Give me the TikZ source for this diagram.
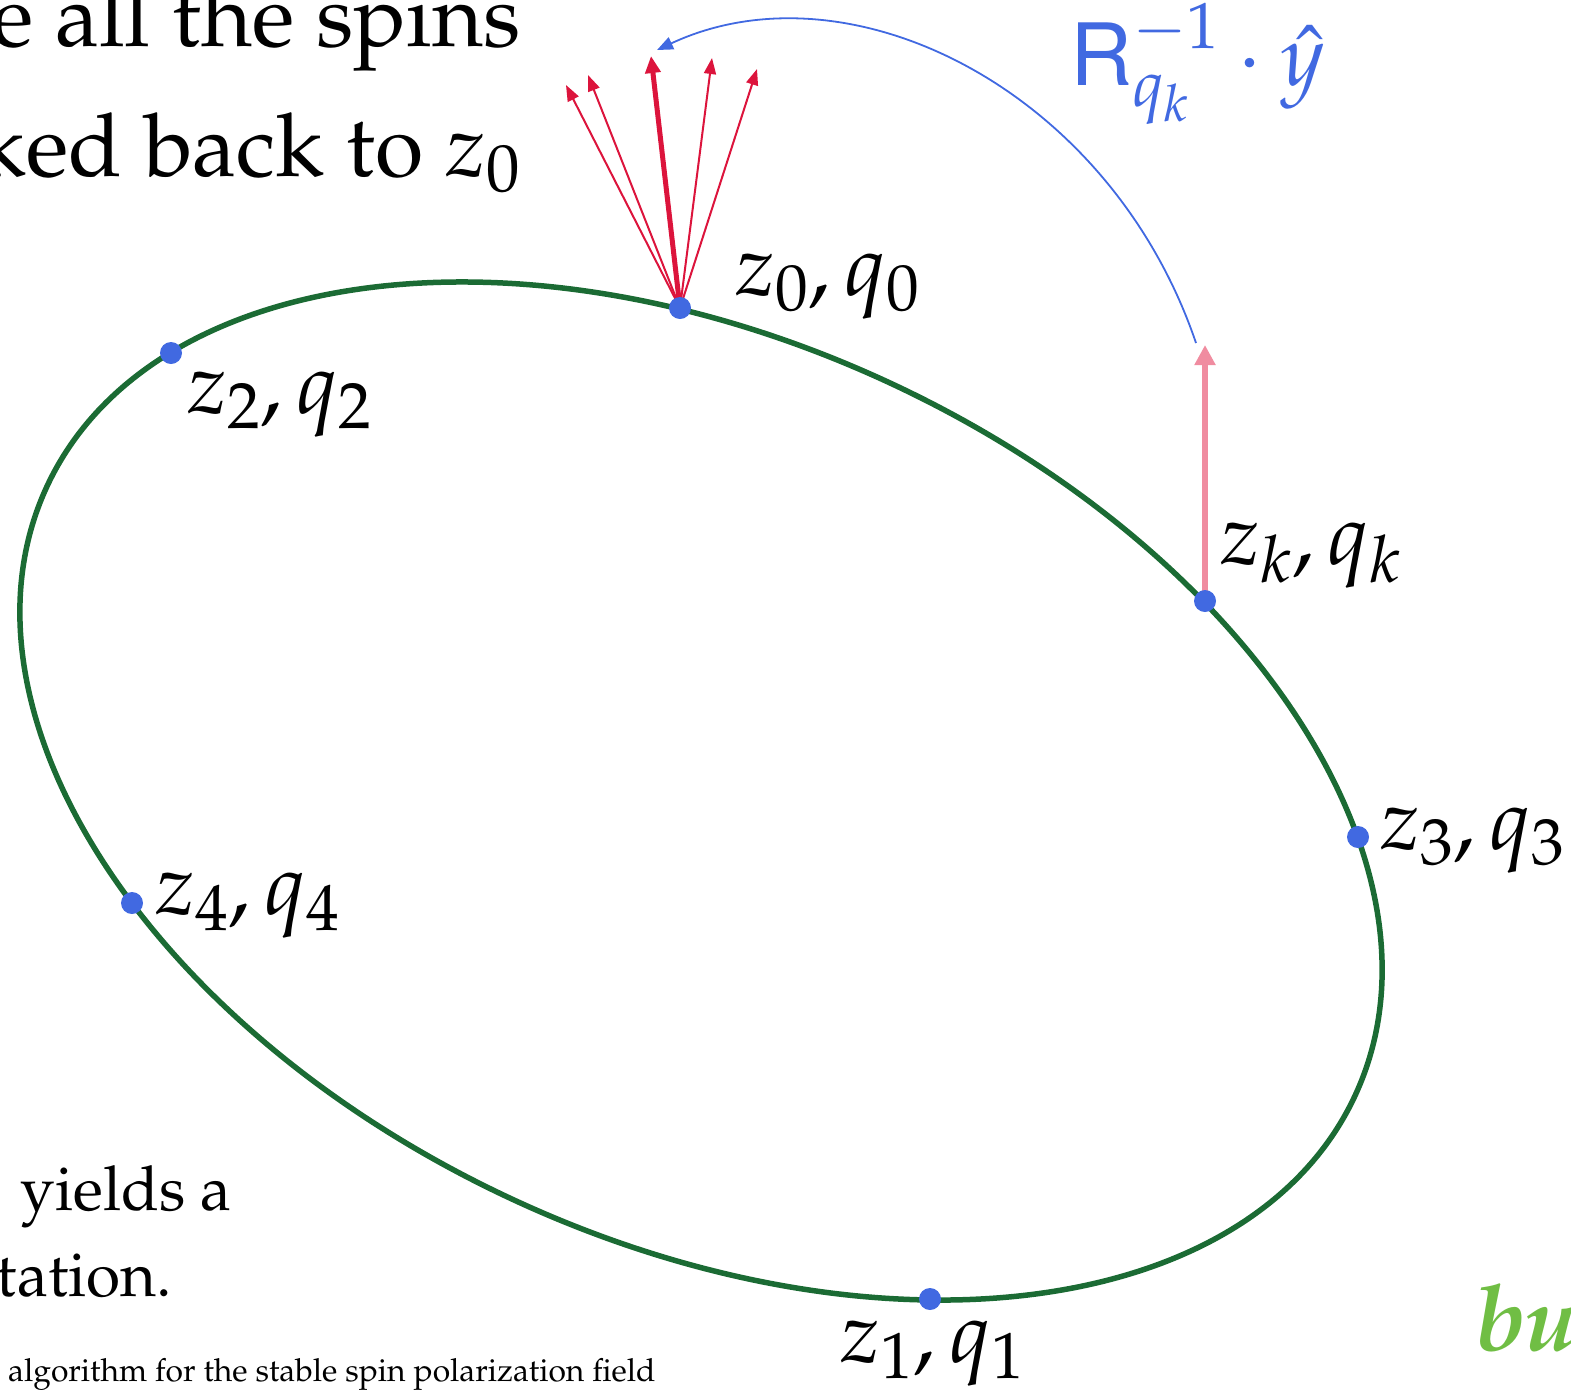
\documentclass[tikz,border=0pt]{standalone}
\usepackage[T1]{fontenc}
\usepackage{mathpazo}
\usetikzlibrary{arrows.meta}
\definecolor{ellgreen}{RGB}{27,107,52}
\definecolor{dotblue}{RGB}{65,105,225}
\definecolor{spinred}{RGB}{220,20,60}
\definecolor{spinpink}{RGB}{240,140,160}
\definecolor{bugreen}{RGB}{112,190,68}
\newcommand{\sansR}{\mbox{\fontencoding{T1}\fontfamily{phv}\selectfont R}}
\tikzset{
  ptdot/.style={circle,fill=dotblue,inner sep=0pt,minimum size=22pt},
  ptlabel/.style={anchor=base west,inner sep=0pt,font=\fontsize{86}{100}\selectfont},
  bigtext/.style={anchor=base east,inner sep=0pt,font=\fontsize{88}{100}\selectfont},
  midtext/.style={anchor=base east,inner sep=0pt,font=\fontsize{62}{70}\selectfont},
  thinspin/.style={draw=spinred,line width=2pt,-{Triangle[length=16pt,width=12pt]}},
  thickspin/.style={draw=spinred,line width=5pt,-{Triangle[length=17pt,width=15pt]}},
}
\begin{document}
\begin{tikzpicture}[x=1pt,y=-1pt]
\useasboundingbox (0,0) rectangle (1571,1390);
% text fragments
\node[bigtext] (t1) at (521,46) {e all the spins};
\node[bigtext] (t2) at (521,176) {ked back to $z_0$};
\node[midtext] (t3) at (232,1210) {yields a};
\node[midtext] (t4) at (172,1296) {tation.};
\node[anchor=base west,inner sep=0pt,font=\fontsize{31.8}{36}\selectfont] (t5) at (8,1381) {algorithm for the stable spin polarization field};
\node[anchor=base west,inner sep=0pt,text=bugreen,font=\fontsize{92}{100}\selectfont\bfseries\itshape] (t6) at (1476,1350) {bu};
% ellipse
\coordinate (C) at (701,791);
\draw[ellgreen,line width=5.5pt,rotate around={-25:(C)}] (C) ellipse [x radius=721.5pt,y radius=449.7pt];
% points
\coordinate (z0) at (680,308);
\coordinate (z1) at (930,1299);
\coordinate (z2) at (171,353);
\coordinate (z3) at (1358,837);
\coordinate (z4) at (132,903);
\coordinate (zk) at (1205,601);
% spins at z0
\coordinate (s1) at (566,85);
\coordinate (s2) at (588,75);
\coordinate (s3) at (651,56);
\coordinate (s4) at (712,58);
\coordinate (s5) at (757,69);
\draw[thinspin] (z0) -- (s1);
\draw[thinspin] (z0) -- (s2);
\draw[thinspin] (z0) -- (s4);
\draw[thinspin] (z0) -- (s5);
\draw[thickspin] (z0) -- (s3);
% pink arrow at zk
\coordinate (pk) at (1205,345);
\draw[spinpink,line width=6pt,-{Triangle[length=20pt,width=20pt]}] (zk) -- (pk);
% blue transport curve
\coordinate (b0) at (1196,343);
\coordinate (b1) at (657,50);
\draw[dotblue,line width=1.8pt,-{Triangle[length=16pt,width=13pt]}] (b0) .. controls (1110,90) and (850,-40) .. (b1);
\node[anchor=base west,inner sep=0pt,text=dotblue,font=\fontsize{86}{100}\selectfont] (rl) at (1070,85) {$\sansR_{q_k}^{-1}\cdot\hat{y}$};
% dots
\foreach \p in {z0,z1,z2,z3,z4,zk} \node[ptdot] (d\p) at (\p) {};
% labels
\node[ptlabel] (l0) at (735,295) {$z_0, q_0$};
\node[ptlabel] (l2) at (187,413) {$z_2, q_2$};
\node[ptlabel] (lk) at (1220,564) {$z_k, q_k$};
\node[ptlabel] (l3) at (1380,849) {$z_3, q_3$};
\node[ptlabel] (l4) at (155,914) {$z_4, q_4$};
\node[ptlabel] (l1) at (840,1362) {$z_1, q_1$};
\end{tikzpicture}
\end{document}
